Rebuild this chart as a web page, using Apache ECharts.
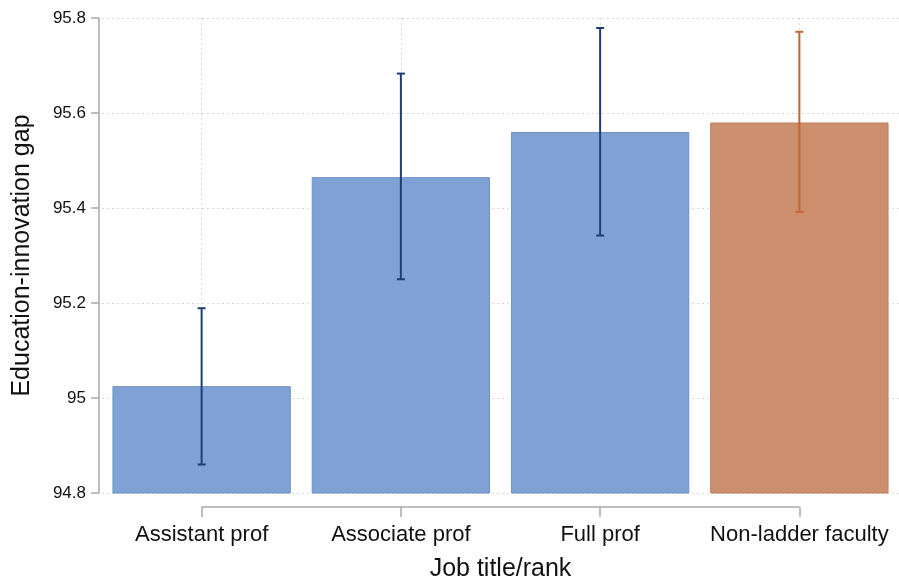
<!DOCTYPE html>
<html>
<head>
<meta charset="utf-8">
<script src="https://cdn.jsdelivr.net/npm/echarts@6/dist/echarts.min.js"></script>
<style>
  html, body { margin: 0; padding: 0; background: #fff; }
  #chart { width: 899px; height: 581px; }
</style>
</head>
<body>
<div id="chart"></div>
<script>
// data
const categories = ['Assistant prof', 'Associate prof', 'Full prof', 'Non-ladder faculty']
const means = [95.025, 95.465, 95.56, 95.58]
const lower = [94.86, 95.25, 95.342, 95.392]
const upper = [95.189, 95.683, 95.779, 95.771]
const isLadder = [true, true, true, false]
const yTicks = { min: 94.8, max: 95.8, step: 0.2 }

const barBlue = '#7fa1d4'
const barOrange = '#cc8f6e'
const errBlue = '#1f3e72'
const errOrange = '#c6642f'
const axisGray = '#a9a9a9'
const font = '"Liberation Sans", Arial, sans-serif'

const chart = echarts.init(document.getElementById('chart'))

const option = {
    animation: false,
    backgroundColor: '#fff',
    grid: { left: 102, right: 0, top: 18, bottom: 88, outerBoundsMode: 'none', containLabel: false },
    xAxis: {
        type: 'category',
        data: categories,
        offset: 14,
        name: 'Job title/rank',
        nameLocation: 'middle',
        nameGap: 50,
        nameTextStyle: { fontFamily: font, fontSize: 25, color: '#111' },
        axisLine: { show: false },
        axisTick: {
            show: true,
            interval: 0,
            alignWithLabel: true,
            length: 10,
            lineStyle: { color: axisGray, width: 1.5 },
        },
        axisLabel: { interval: 0, fontFamily: font, fontSize: 22, color: '#111', margin: 17 },
        splitLine: {
            show: true,
            interval: 0,
            alignWithLabel: true,
            lineStyle: { color: '#d9d9d9', type: [2, 3], width: 1 },
        },
    },
    yAxis: {
        type: 'value',
        min: yTicks.min,
        max: yTicks.max,
        interval: yTicks.step,
        offset: 3,
        name: 'Education-innovation gap',
        nameLocation: 'middle',
        nameGap: 64,
        nameTextStyle: { fontFamily: font, fontSize: 25, color: '#111' },
        axisLine: { show: true, lineStyle: { color: axisGray, width: 1.5 } },
        axisTick: { show: true, length: 8, lineStyle: { color: axisGray, width: 1.5 } },
        axisLabel: {
            fontFamily: font,
            fontSize: 17,
            color: '#111',
            margin: 13,
            formatter: (v) => String(+v.toFixed(1)),
        },
        splitLine: { show: true, lineStyle: { color: '#d9d9d9', type: [2, 3], width: 1 } },
    },
    series: [
        {
            type: 'bar',
            barCategoryGap: '10.5%',
            data: means.map((v, i) => ({
                value: v,
                itemStyle: {
                    color: isLadder[i] ? barBlue : barOrange,
                    borderColor: isLadder[i] ? '#6f92c6' : '#bf7c58',
                    borderWidth: 1,
                },
            })),
            z: 2,
        },
        {
            // confidence intervals
            type: 'custom',
            data: categories.map((c, i) => [i, lower[i], upper[i]]),
            renderItem: function (params, api) {
                const i = api.value(0)
                const lo = api.coord([i, api.value(1)])
                const hi = api.coord([i, api.value(2)])
                const col = isLadder[i] ? errBlue : errOrange
                const style = { stroke: col, lineWidth: 2 }
                const cap = 4
                return {
                    type: 'group',
                    children: [
                        { type: 'line', shape: { x1: lo[0], y1: lo[1], x2: hi[0], y2: hi[1] }, style: style },
                        { type: 'line', shape: { x1: lo[0] - cap, y1: lo[1], x2: lo[0] + cap, y2: lo[1] }, style: style },
                        { type: 'line', shape: { x1: hi[0] - cap, y1: hi[1], x2: hi[0] + cap, y2: hi[1] }, style: style },
                    ],
                }
            },
            z: 5,
        },
        {
            // x axis line running from first to last category
            type: 'custom',
            clip: false,
            silent: true,
            data: [[0, categories.length - 1]],
            renderItem: function (params, api) {
                const a = api.coord([api.value(0), yTicks.min])
                const b = api.coord([api.value(1), yTicks.min])
                return {
                    type: 'line',
                    shape: { x1: a[0], y1: a[1] + 14, x2: b[0], y2: b[1] + 14 },
                    style: { stroke: axisGray, lineWidth: 1.5 },
                }
            },
        },
    ],
}

chart.setOption(option)
</script>
</body>
</html>
